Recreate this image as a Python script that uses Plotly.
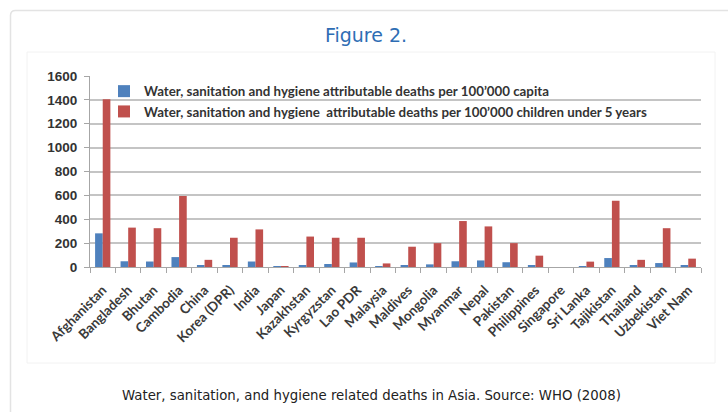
import plotly.graph_objects as go

# Countries and WHO (2008) attributable death rates
countries = [
    "Afghanistan", "Bangladesh", "Bhutan", "Cambodia", "China", "Korea (DPR)",
    "India", "Japan", "Kazakhstan", "Kyrgyzstan", "Lao PDR", "Malaysia",
    "Maldives", "Mongolia", "Myanmar", "Nepal", "Pakistan", "Philippines",
    "Singapore", "Sri Lanka", "Tajikistan", "Thailand", "Uzbekistan", "Viet Nam",
]
per_capita = [
    282, 48, 46, 83, 10, 16, 46, 5, 16, 25, 38, 8,
    15, 22, 48, 55, 40, 15, 0, 8, 75, 12, 33, 10,
]
per_children_u5 = [
    1405, 330, 325, 595, 60, 245, 315, 3, 255, 245, 245, 30,
    170, 200, 385, 340, 200, 95, 0, 45, 555, 60, 325, 70,
]
series_names = [
    "Water, sanitation and hygiene attributable deaths per 100\u2019000 capita",
    "Water, sanitation and hygiene  attributable deaths per 100\u2019000 children under 5 years",
]
y_ticks = [0, 200, 400, 600, 800, 1000, 1200, 1400, 1600]

W, H = 728, 412
ML, MR, MT, MB = 90, 27, 76, 145
PW, PH = W - ML - MR, H - MT - MB


def px_x(x):
    return (x - ML) / PW


def px_y(y):
    return (H - MB - y) / PH


fig = go.Figure()
fig.add_trace(go.Bar(x=countries, y=per_capita, name=series_names[0],
                     marker=dict(color="#4F81BD", line=dict(width=0))))
fig.add_trace(go.Bar(x=countries, y=per_children_u5, name=series_names[1],
                     marker=dict(color="#C0504D", line=dict(width=0))))

legend_font = dict(family="Lato", size=13.3, color="#333333", weight="bold")
xlabel_font = dict(family="Lato", size=13.5, color="#3a3a3a", weight="bold")

fig.update_layout(
    width=W, height=H,
    margin=dict(l=ML, r=MR, t=MT, b=MB),
    paper_bgcolor="white", plot_bgcolor="rgba(0,0,0,0)",
    barmode="group", bargap=0.4, bargroupgap=0.0,
    showlegend=True,
    legend=dict(x=px_x(104), y=px_y(76), xanchor="left", yanchor="top",
                bgcolor="rgba(0,0,0,0)", font=legend_font,
                tracegroupgap=0, itemwidth=30),
    font=dict(family="Lato"),
    title=dict(text="Figure 2.", x=366 / W, xref="container", xanchor="center",
               y=1 - 35 / H, yref="container", yanchor="middle",
               font=dict(family="DejaVu Sans", size=19, color="#2E6DB4")),
    xaxis=dict(
        type="category", tickangle=-45, tickfont=xlabel_font,
        showline=True, linecolor="#a6a6a6", linewidth=1,
        ticks="outside", tickson="boundaries", ticklen=5, tickcolor="#a6a6a6",
        showgrid=False, zeroline=False, ticklabelstandoff=9,
    ),
    yaxis=dict(
        range=[0, 1600], tickvals=y_ticks,
        tickfont=dict(family="Liberation Sans", size=13.5, color="#333333", weight="bold"),
        showline=True, linecolor="#a6a6a6", linewidth=1,
        ticks="outside", ticklen=5, tickcolor="#a6a6a6",
        showgrid=True, gridcolor="#c4c4c4", gridwidth=1.5,
        zeroline=True, zerolinecolor="#a6a6a6", zerolinewidth=1,
        ticklabelstandoff=4,
    ),
)

# Card outline with rounded corner and the faint frame around the chart
r = 5
fig.add_shape(type="path", xref="paper", yref="paper",
              path=(f"M {px_x(10.5)} {px_y(430)} L {px_x(10.5)} {px_y(10.5 + r)} "
                    f"Q {px_x(10.5)} {px_y(10.5)} {px_x(10.5 + r)} {px_y(10.5)} "
                    f"L {px_x(760)} {px_y(10.5)}"),
              line=dict(color="#e3e3e3", width=1.5), layer="below")
fig.add_shape(type="rect", xref="paper", yref="paper",
              x0=px_x(27), x1=px_x(715), y0=px_y(363), y1=px_y(52),
              line=dict(color="#f2f2f2", width=1), fillcolor="rgba(0,0,0,0)",
              layer="below")

fig.add_annotation(text="Water, sanitation, and hygiene related deaths in Asia. Source: WHO (2008)",
                   xref="paper", yref="paper", x=px_x(371), y=px_y(395),
                   xanchor="center", yanchor="middle", showarrow=False,
                   font=dict(family="DejaVu Sans", size=13.3, color="#222222"))

fig.write_html("out.html")
